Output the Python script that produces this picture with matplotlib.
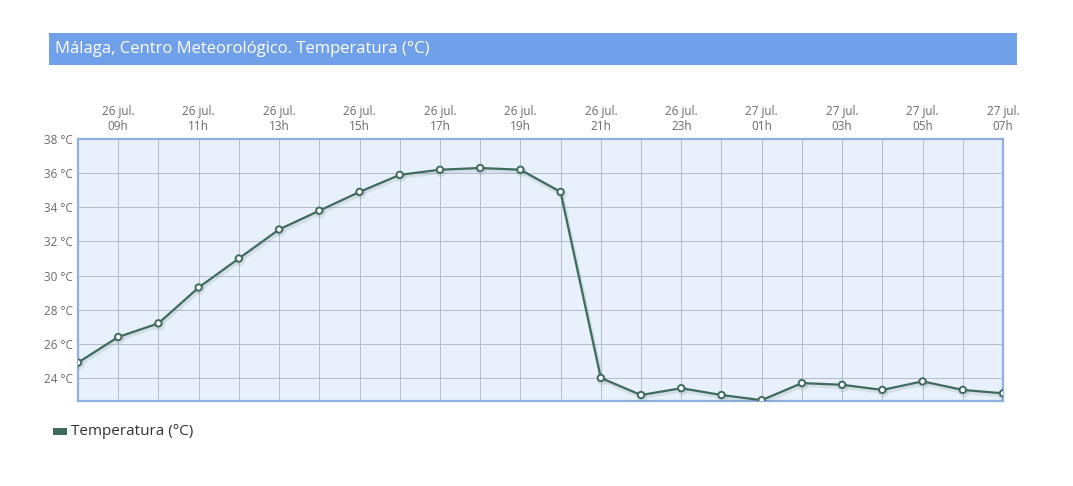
import matplotlib
matplotlib.use("Agg")
import matplotlib.pyplot as plt
from matplotlib.patches import Rectangle
import matplotlib.patheffects as pe

plt.rcParams['font.family'] = ['Open Sans', 'DejaVu Sans']

hours = ["08h", "09h", "10h", "11h", "12h", "13h", "14h", "15h", "16h", "17h", "18h", "19h",
         "20h", "21h", "22h", "23h", "00h", "01h", "02h", "03h", "04h", "05h", "06h", "07h"]
days = ["26 jul."] * 16 + ["27 jul."] * 8
temps = [24.9, 26.4, 27.2, 29.3, 31.0, 32.7, 33.8, 34.9, 35.9, 36.2, 36.3, 36.2,
         34.9, 24.0, 23.0, 23.4, 23.0, 22.7, 23.7, 23.6, 23.3, 23.8, 23.3, 23.1]
yticks = [24, 26, 28, 30, 32, 34, 36, 38]

W, H = 1073, 486
fig = plt.figure(figsize=(W / 100, H / 100), dpi=100)
fig.patch.set_facecolor("white")

# title bar
fig.patches.append(Rectangle((49 / W, 1 - 65 / H), (1017 - 49) / W, 32 / H,
                             transform=fig.transFigure, facecolor="#70a0ea",
                             edgecolor="none", zorder=0))
fig.text(55 / W, 1 - 49 / H, "Málaga, Centro Meteorológico. Temperatura (°C)",
         color="white", fontsize=12, va="center", ha="left")

ax = fig.add_axes([78 / W, 1 - 401 / H, (1003 - 78) / W, (401 - 139) / H])
ax.set_facecolor("#e8f0fb")
x = list(range(len(temps)))

ax.plot(x, temps, color="#3f6b5e", lw=1.6, zorder=3,
        marker="o", markersize=4.6, markerfacecolor="white",
        markeredgecolor="#3f6b5e", markeredgewidth=1.4,
        path_effects=[pe.SimpleLineShadow(offset=(0.8, -1.5), shadow_color="#3f6b5e", alpha=0.12, linewidth=3),
                      pe.Normal()])

ax.set_xlim(0, len(temps) - 1)
ax.set_ylim(22.65, 38)
ax.set_xticks(x)
ax.set_xticklabels([f"{d}\n{h}" if i % 2 == 1 else "" for i, (d, h) in enumerate(zip(days, hours))])
ax.xaxis.tick_top()
ax.set_yticks(yticks)
ax.set_yticklabels([f"{v} °C" for v in yticks])
ax.tick_params(axis="both", length=0, labelsize=8.5, labelcolor="#6a6a6a")
ax.tick_params(axis="x", pad=4)
ax.tick_params(axis="y", pad=4)
ax.grid(True, color="#b4bccc", lw=0.7, zorder=1)
ax.set_axisbelow(True)
for s in ax.spines.values():
    s.set_color("#90b0e0")
    s.set_linewidth(1.6)

# legend
fig.patches.append(Rectangle((53 / W, 1 - 435 / H), 14 / W, 7 / H,
                             transform=fig.transFigure, facecolor="#3f6b5e",
                             edgecolor="none"))
fig.text(71 / W, 1 - 431 / H, "Temperatura (°C)", color="#333333", fontsize=11,
         va="center", ha="left")

fig.savefig("out.png", dpi=100)
